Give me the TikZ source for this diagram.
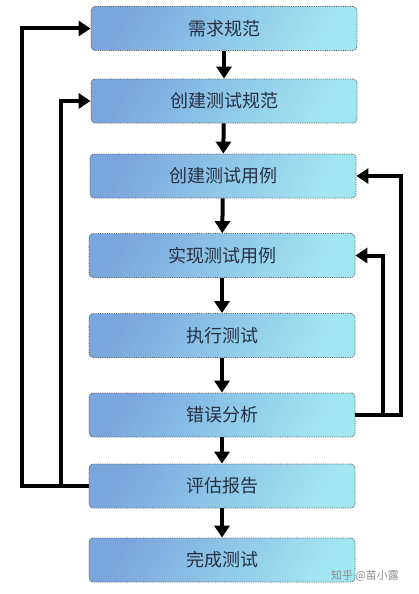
\documentclass[tikz,border=0pt]{standalone}
\usepackage{fontspec}
\newfontfamily\cjk{Noto Sans CJK SC}
\usetikzlibrary{arrows.meta, positioning}
\definecolor{boxBlue}{RGB}{122, 166, 222}
\definecolor{boxCyan}{RGB}{162, 230, 242}
\definecolor{boxText}{RGB}{38, 48, 66}

\begin{document}
\begin{tikzpicture}[x=1pt, y=-1pt,
    stage/.style={draw=black!65, densely dotted, line width=0.8pt, rounded corners=4pt,
      left color=boxBlue, right color=boxCyan, shading angle=60,
      minimum width=266pt, minimum height=44pt, inner sep=0pt,
      text=boxText, font=\cjk\fontsize{18}{21}\selectfont},
    flow/.style={line width=4pt, -{Triangle[length=12pt, width=15pt]}}]
  \useasboundingbox (0,0) rectangle (418,594);
  % test process stages
  \node[stage] (req)    at (224,28.5) {需求规范};
  \node[stage] (spec)   at (224,101)  {创建测试规范};
  \node[stage] (mkcase) at (223,176)  {创建测试用例};
  \node[stage] (impl)   at (222,255.5) {实现测试用例};
  \node[stage] (run)    at (222,335.5) {执行测试};
  \node[stage] (err)    at (222,415)  {错误分析};
  \node[stage] (eval)   at (222,486)  {评估报告};
  \node[stage] (done)   at (222,560)  {完成测试};
  % main flow
  \draw[flow] (req) -- (spec);
  \draw[flow] (spec) -- (mkcase);
  \draw[flow] (mkcase) -- (impl);
  \draw[flow] (impl) -- (run);
  \draw[flow] (run) -- (err);
  \draw[flow] (err) -- (eval);
  \draw[flow] (eval) -- (done);
  % feedback loops
  \draw[flow] (eval.west) -- ++(-67,0) |- (req.west);
  \draw[flow] (eval.west) ++(-28,0) |- (spec.west);
  \draw[flow] (err.east) -- ++(46,0) |- (mkcase.east);
  \draw[flow] (err.east) ++(28,0) |- (impl.east);
  % watermark
  \node[text=black!45, font=\cjk\fontsize{11}{13}\selectfont] (mark) at (365,576) {知乎 @苗小露};
\end{tikzpicture}
\end{document}
